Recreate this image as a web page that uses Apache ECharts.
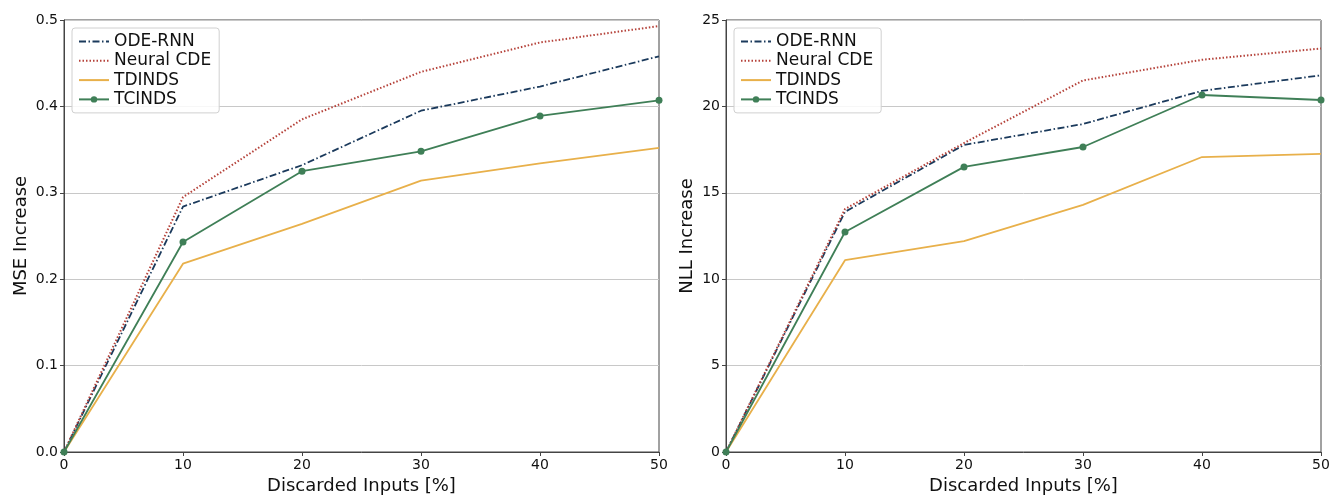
<!DOCTYPE html>
<html>
<head>
<meta charset="utf-8">
<script src="https://cdn.jsdelivr.net/npm/echarts@6/dist/echarts.min.js"></script>
<style>
  html, body { margin: 0; padding: 0; background: #fff; }
  #chart { width: 1331px; height: 497px; }
</style>
</head>
<body>
<div id="chart"></div>
<script>
// discarded inputs [%]
const discarded = [0, 10, 20, 30, 40, 50]

// MSE increase (left panel)
const mseOdeRnn = [0, 0.284, 0.332, 0.395, 0.423, 0.458]
const mseNeuralCde = [0, 0.295, 0.385, 0.440, 0.474, 0.493]
const mseTdinds = [0, 0.218, 0.264, 0.314, 0.334, 0.352]
const mseTcinds = [0, 0.243, 0.325, 0.348, 0.389, 0.407]

// NLL increase (right panel)
const nllOdeRnn = [0, 13.9, 17.77, 18.98, 20.9, 21.8]
const nllNeuralCde = [0, 14.06, 17.88, 21.5, 22.7, 23.35]
const nllTdinds = [0, 11.1, 12.2, 14.3, 17.07, 17.25]
const nllTcinds = [0, 12.73, 16.5, 17.65, 20.66, 20.37]

const names = ['ODE-RNN', 'Neural CDE', 'TDINDS', 'TCINDS']
const colors = ['#1b3a5c', '#b5423a', '#e8b04a', '#3f7f57']
const font = 'DejaVu Sans'

const pairs = arr => discarded.map((x, i) => [x, arr[i]])

const lineSeries = (idx, data, axisIndex) => {
  const base = {
    name: names[idx],
    type: 'line',
    xAxisIndex: axisIndex,
    yAxisIndex: axisIndex,
    data: pairs(data),
    color: colors[idx],
    symbol: 'none',
    lineStyle: { width: 1.8, color: colors[idx] },
    animation: false,
    z: 3
  }
  if (idx === 0) base.lineStyle.type = [7, 2.5, 1.5, 2.5]
  if (idx === 1) { base.lineStyle.type = [1.5, 2]; base.lineStyle.width = 2 }
  if (idx === 3) {
    base.symbol = 'circle'
    base.symbolSize = 7
    base.itemStyle = { color: colors[idx] }
  }
  return base
}

const xAxis = (gi) => ({
  type: 'value',
  gridIndex: gi,
  min: 0, max: 50, interval: 10,
  name: 'Discarded Inputs [%]',
  nameLocation: 'middle',
  nameGap: 25,
  nameTextStyle: { fontFamily: font, fontSize: 18, color: '#111' },
  axisLine: { show: true, lineStyle: { color: '#444' } },
  axisTick: { show: true, length: 4, lineStyle: { color: '#444' } },
  axisLabel: { fontFamily: font, fontSize: 14, color: '#111', margin: 6 },
  splitLine: { show: false }
})

const yAxis = (gi, max, interval, name, fmt) => ({
  type: 'value',
  gridIndex: gi,
  min: 0, max: max, interval: interval,
  name: name,
  nameLocation: 'middle',
  nameGap: gi === 0 ? 34 : 30,
  nameTextStyle: { fontFamily: font, fontSize: 18, color: '#111' },
  axisLine: { show: true, lineStyle: { color: '#444' } },
  axisTick: { show: true, length: 4, lineStyle: { color: '#444' } },
  axisLabel: { fontFamily: font, fontSize: 14, color: '#111', margin: 6, formatter: fmt },
  splitLine: { show: true, lineStyle: { color: '#c8c8c8', width: 1 } }
})

// only TCINDS shows a marker in the legend
const legendData = names.map((n, i) => i === 3 ? { name: n } : { name: n, itemStyle: { opacity: 0 } })

const legend = (left) => ({
  data: legendData,
  orient: 'vertical',
  left: left,
  top: 28,
  itemWidth: 30,
  itemHeight: 8,
  itemGap: 2.3,
  padding: [5, 8, 5, 6],
  borderColor: '#d0d0d0',
  borderWidth: 1,
  borderRadius: 3,
  backgroundColor: 'rgba(255,255,255,0.85)',
  textStyle: { fontFamily: font, fontSize: 17, color: '#111', lineHeight: 16 }
})

const chart = echarts.init(document.getElementById('chart'))
chart.setOption({
  backgroundColor: '#fff',
  animation: false,
  legend: [legend(72), legend(734)],
  grid: [
    { left: 64, right: 672, top: 20, bottom: 45, show: true, borderColor: '#444', borderWidth: 1, outerBoundsMode: 'none' },
    { left: 726, right: 10, top: 20, bottom: 45, show: true, borderColor: '#444', borderWidth: 1, outerBoundsMode: 'none' }
  ],
  xAxis: [xAxis(0), xAxis(1)],
  yAxis: [
    yAxis(0, 0.5, 0.1, 'MSE Increase', v => v.toFixed(1)),
    yAxis(1, 25, 5, 'NLL Increase', v => String(v))
  ],
  series: [
    lineSeries(0, mseOdeRnn, 0),
    lineSeries(1, mseNeuralCde, 0),
    lineSeries(2, mseTdinds, 0),
    lineSeries(3, mseTcinds, 0),
    lineSeries(0, nllOdeRnn, 1),
    lineSeries(1, nllNeuralCde, 1),
    lineSeries(2, nllTdinds, 1),
    lineSeries(3, nllTcinds, 1)
  ]
})
</script>
</body>
</html>
